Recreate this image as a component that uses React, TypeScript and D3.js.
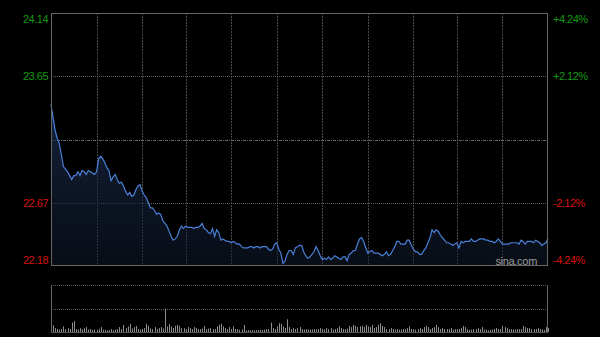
import React from "react";
import * as d3 from "d3";

const prices: number[] = [
  23.43, 23.33, 23.23, 23.17, 23.13, 23.04, 22.95, 22.93, 22.91, 22.88,
  22.85, 22.88, 22.88, 22.91, 22.88, 22.92, 22.91, 22.89, 22.92, 22.91,
  22.90, 22.89, 22.91, 23.01, 23.03, 23.01, 22.98, 22.94, 22.92, 22.84,
  22.87, 22.89, 22.85, 22.82, 22.83, 22.80, 22.76, 22.73, 22.75, 22.72,
  22.73, 22.77, 22.80, 22.81, 22.76, 22.73, 22.71, 22.67, 22.63, 22.63,
  22.61, 22.58, 22.59, 22.58, 22.53, 22.51, 22.49, 22.45, 22.41, 22.38,
  22.39, 22.41, 22.46, 22.49, 22.47, 22.49, 22.48, 22.48, 22.48, 22.47,
  22.48, 22.48, 22.49, 22.51, 22.47, 22.46, 22.44, 22.43, 22.47, 22.41,
  22.46, 22.44, 22.38, 22.39, 22.38, 22.37, 22.37, 22.36, 22.37, 22.36,
  22.35, 22.35, 22.33, 22.32, 22.32, 22.32, 22.33, 22.33, 22.32, 22.33,
  22.33, 22.32, 22.33, 22.33, 22.33, 22.31, 22.30, 22.31, 22.35, 22.36,
  22.31, 22.28, 22.20, 22.22, 22.27, 22.30, 22.30, 22.27, 22.32, 22.33,
  22.34, 22.34, 22.29, 22.26, 22.24, 22.25, 22.27, 22.29, 22.33, 22.30,
  22.26, 22.23, 22.24, 22.23, 22.25, 22.23, 22.24, 22.26, 22.25, 22.24,
  22.23, 22.25, 22.25, 22.22, 22.27, 22.28, 22.30, 22.30, 22.35, 22.39,
  22.40, 22.37, 22.32, 22.28, 22.29, 22.30, 22.28, 22.28, 22.28, 22.27,
  22.26, 22.27, 22.29, 22.26, 22.27, 22.30, 22.33, 22.37, 22.37, 22.35,
  22.35, 22.35, 22.38, 22.38, 22.34, 22.31, 22.29, 22.29, 22.27, 22.27,
  22.30, 22.32, 22.36, 22.40, 22.46, 22.44, 22.46, 22.45, 22.42, 22.40,
  22.38, 22.36, 22.36, 22.35, 22.34, 22.35, 22.36, 22.32, 22.37, 22.36,
  22.37, 22.37, 22.37, 22.39, 22.37, 22.37, 22.38, 22.39, 22.39, 22.39,
  22.38, 22.38, 22.37, 22.37, 22.36, 22.37, 22.39, 22.37, 22.35, 22.35,
  22.35, 22.35, 22.36, 22.36, 22.36, 22.36, 22.35, 22.38, 22.37, 22.35,
  22.37, 22.37, 22.37, 22.36, 22.38, 22.37, 22.36, 22.34, 22.35, 22.36,
  22.39,
];

const volumes: number[] = [
  730, 700, 400, 300, 230, 300, 570, 300, 400, 300,
  970, 1130, 300, 250, 400, 300, 400, 500, 250, 300,
  200, 250, 230, 300, 500, 230, 200, 170, 200, 300,
  200, 250, 300, 500, 300, 730, 400, 570, 830, 350,
  500, 630, 300, 230, 300, 400, 830, 630, 350, 300,
  500, 300, 400, 500, 350, 2400, 570, 830, 570, 400,
  630, 730, 630, 400, 400, 300, 500, 400, 300, 500,
  400, 300, 300, 350, 630, 300, 350, 400, 300, 300,
  570, 730, 830, 570, 400, 300, 500, 300, 570, 300,
  300, 230, 250, 730, 170, 200, 170, 200, 170, 200,
  200, 230, 200, 250, 300, 300, 970, 400, 300, 570,
  900, 830, 570, 400, 1300, 500, 300, 400, 300, 400,
  500, 300, 250, 300, 250, 230, 250, 300, 250, 300,
  400, 300, 250, 400, 300, 400, 230, 300, 400, 570,
  400, 300, 300, 350, 630, 500, 730, 630, 500, 570,
  630, 500, 730, 570, 500, 730, 400, 500, 730, 900,
  630, 500, 300, 300, 400, 300, 250, 300, 230, 250,
  300, 300, 400, 570, 300, 300, 250, 300, 400, 300,
  500, 630, 500, 300, 400, 500, 730, 500, 300, 400,
  300, 300, 300, 400, 230, 300, 300, 300, 400, 630,
  500, 300, 230, 250, 300, 300, 400, 300, 500, 250,
  230, 170, 200, 250, 300, 400, 300, 300, 630, 500,
  400, 300, 300, 230, 250, 300, 300, 300, 630, 500,
  400, 400, 300, 300, 300, 400, 300, 250, 230, 500,
  400,
];

const prevClose = 23.16;
const priceTicks: number[] = [24.14, 23.65, 22.67, 22.18];
const pctLabels: string[] = ["+4.24%", "+2.12%", "-2.12%", "-4.24%"];
const gridMinutes: number[] = [22, 44, 65, 87, 109, 131, 153, 175, 196, 218];

const W = 600;
const H = 337;
const L = 51;
const R = 548;
const T = 13;
const B = 266;
const VT = 285;
const VB = 332;

export default function App() {
  const x = d3.scaleLinear().domain([0, 240]).range([L, R]);
  const y = d3.scaleLinear().domain([22.18, 24.14]).range([B, T]);
  const vy = d3.scaleLinear().domain([0, 4800]).range([VB, VT]);

  const minutes = prices.map((_, i) => i);
  const line = d3
    .line<number>()
    .x((i) => x(i))
    .y((i) => y(prices[i]))(minutes) as string;
  const area = d3
    .area<number>()
    .x((i) => x(i))
    .y0(B)
    .y1((i) => y(prices[i]))(minutes) as string;

  const gridColor = "#4a4a4a";
  const labelFont = "Arial, 'Liberation Sans', sans-serif";

  return (
    <svg
      width={W}
      height={H}
      style={{ position: "absolute", left: 0, top: 0, background: "#000" }}
    >
      <defs>
        <linearGradient id="ag" x1="0" y1="0" x2="0" y2="1">
          <stop offset="0%" stopColor="#1c2e50" stopOpacity={0.75} />
          <stop offset="100%" stopColor="#101a2c" stopOpacity={0.5} />
        </linearGradient>
      </defs>
      <rect x={0} y={0} width={W} height={H} fill="#000" />

      {/* vertical grid */}
      {gridMinutes.map((m) => (
        <line
          key={"v" + m}
          x1={Math.round(x(m)) + 0.5}
          x2={Math.round(x(m)) + 0.5}
          y1={T}
          y2={B}
          stroke={gridColor}
          strokeDasharray="2,1"
        />
      ))}
      {/* horizontal grid */}
      {[23.65, 22.67].map((p) => (
        <line
          key={"h" + p}
          x1={L}
          x2={R}
          y1={Math.round(y(p)) + 0.5}
          y2={Math.round(y(p)) + 0.5}
          stroke="#5a5a5a"
          strokeDasharray="1,1"
        />
      ))}
      <line
        x1={L}
        x2={R}
        y1={Math.round(y(prevClose)) + 0.5}
        y2={Math.round(y(prevClose)) + 0.5}
        stroke="#6a6a6a"
        strokeDasharray="3,1,1,1"
      />

      <path d={area} fill="url(#ag)" />
      <path d={line} fill="none" stroke="#4a80d8" strokeWidth={1.2} />

      {/* main border */}
      <rect
        x={L + 0.5}
        y={T + 0.5}
        width={R - L - 1}
        height={B - T - 1}
        fill="none"
        stroke="#666"
      />

      {/* left labels */}
      {priceTicks.map((p, i) => {
        const yy = i === 0 ? y(p) + 10 : i === 3 ? y(p) - 2 : y(p) + 4;
        return (
          <text
            key={"l" + p}
            x={48}
            y={yy}
            textAnchor="end"
            fontSize={11}
            letterSpacing={-0.5}
            fontFamily={labelFont}
            fill={p > prevClose ? "#149a14" : "#d41010"}
          >
            {p.toFixed(2)}
          </text>
        );
      })}
      {/* right labels */}
      {priceTicks.map((p, i) => {
        const yy = i === 0 ? y(p) + 10 : i === 3 ? y(p) - 2 : y(p) + 4;
        return (
          <text
            key={"r" + p}
            x={553}
            y={yy}
            textAnchor="start"
            fontSize={11}
            letterSpacing={-0.5}
            fontFamily={labelFont}
            fill={p > prevClose ? "#149a14" : "#d41010"}
          >
            {pctLabels[i]}
          </text>
        );
      })}

      <text
        x={537}
        y={265}
        textAnchor="end"
        fontSize={11}
        letterSpacing={-0.3}
        fontFamily={labelFont}
        fill="#9a9a9a"
      >
        sina.com
      </text>

      {/* volume panel */}
      <line x1={L} x2={R} y1={VT + 0.5} y2={VT + 0.5} stroke="#5a5a5a" strokeDasharray="1,1" />
      <line
        x1={L}
        x2={R}
        y1={Math.round(vy(2400)) + 0.5}
        y2={Math.round(vy(2400)) + 0.5}
        stroke="#5a5a5a"
        strokeDasharray="1,1"
      />
      {volumes.map((v, i) => (
        <line
          key={"vb" + i}
          x1={Math.round(x(i)) + 0.5}
          x2={Math.round(x(i)) + 0.5}
          y1={VB}
          y2={vy(v)}
          stroke="#8c8c8c"
          strokeWidth={1}
        />
      ))}
      <line x1={L + 0.5} x2={L + 0.5} y1={VT} y2={VB} stroke="#666" />
      <line x1={R - 0.5} x2={R - 0.5} y1={VT} y2={VB} stroke="#666" />
      <line x1={L} x2={R} y1={VB + 0.5} y2={VB + 0.5} stroke="#555" />
    </svg>
  );
}
